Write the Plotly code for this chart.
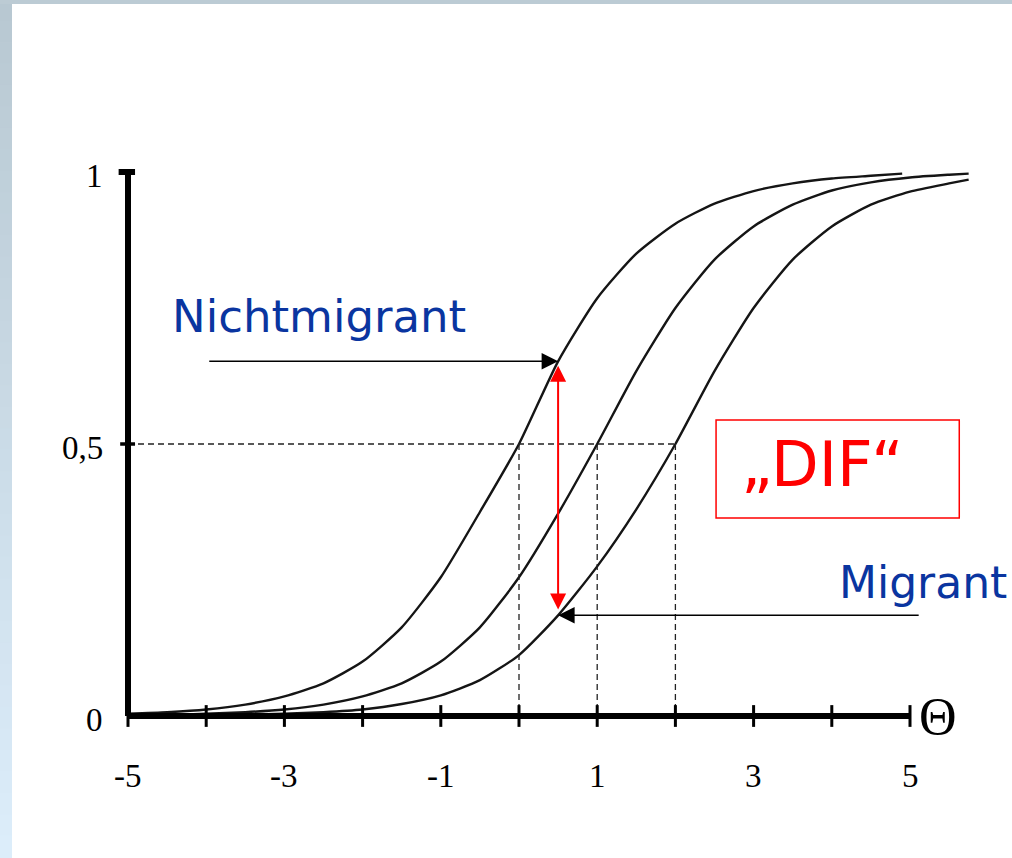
import plotly.graph_objects as go

# ---------------- data ----------------
theta_nm = [-5, -4.5, -4, -3.5, -3, -2.5, -2, -1.5, -1, -0.5, 0, 0.5, 1, 1.5, 2, 2.5, 3, 3.5, 4, 4.5, 4.9]
p_nm = [0.004, 0.007, 0.012, 0.021, 0.036, 0.060, 0.100, 0.163, 0.255, 0.375, 0.500, 0.652, 0.768, 0.850,
        0.905, 0.942, 0.965, 0.979, 0.988, 0.993, 0.997]

theta_mid = [-5, -4.5, -4, -3.5, -3, -2.5, -2, -1.5, -1, -0.5, 0, 0.5, 1, 1.5, 2, 2.5, 3, 3.5, 4, 4.5, 5, 5.5, 5.75]
p_mid = [0.001, 0.002, 0.004, 0.007, 0.012, 0.021, 0.036, 0.060, 0.100, 0.163, 0.255, 0.372, 0.500, 0.634,
         0.750, 0.839, 0.900, 0.940, 0.966, 0.981, 0.990, 0.995, 0.997]

theta_mig = [-5, -4.5, -4, -3.5, -3, -2.5, -2, -1.5, -1, -0.5, 0, 0.5, 1, 1.5, 2, 2.5, 3, 3.5, 4, 4.5, 5, 5.5, 5.75]
p_mig = [0.0005, 0.0008, 0.0014, 0.0024, 0.004, 0.007, 0.012, 0.022, 0.038, 0.066, 0.112, 0.185, 0.275, 0.380,
         0.500, 0.634, 0.750, 0.839, 0.900, 0.940, 0.964, 0.979, 0.986]

difficulties = [0, 1, 2]          # theta where P = 0.5
x_ticks = [-5, -4, -3, -2, -1, 0, 1, 2, 3, 4, 5]
x_tick_labels = ["-5", "-3", "-1", "1", "3", "5"]
x_tick_label_vals = [-5, -3, -1, 1, 3, 5]
y_tick_vals = [0, 0.5, 1]
y_tick_labels = ["0", "0,5", "1"]
arrow_theta = 0.5

# ---------------- figure ----------------
W, H = 1012, 858
X0 = -5 - 128 / 78.2
X1 = 5 + (W - 910) / 78.2
Y1 = 716 / 544
Y0 = -(H - 716) / 544

fig = go.Figure()

curve_line = dict(color="#151515", width=2.4, shape="spline", smoothing=0.6)
for th, p in [(theta_nm, p_nm), (theta_mid, p_mid), (theta_mig, p_mig)]:
    fig.add_trace(go.Scatter(x=th, y=p, mode="lines", line=curve_line, hoverinfo="skip", showlegend=False))

# dashed guide lines
dash = dict(color="#222222", width=1.3, dash="6px,4px")
fig.add_trace(go.Scatter(x=[x_ticks[0], max(difficulties)], y=[0.5, 0.5], mode="lines", line=dash,
                         hoverinfo="skip", showlegend=False))
vx, vy = [], []
for d in difficulties:
    vx += [d, d, None]
    vy += [0.5, 0, None]
fig.add_trace(go.Scatter(x=vx, y=vy, mode="lines", line=dash, hoverinfo="skip", showlegend=False))

# axes
fig.add_trace(go.Scatter(x=[x_ticks[0], x_ticks[-1]], y=[0, 0], mode="lines",
                         line=dict(color="black", width=6), hoverinfo="skip", showlegend=False))
fig.add_trace(go.Scatter(x=[x_ticks[0], x_ticks[0]], y=[0, 1], mode="lines",
                         line=dict(color="black", width=6), hoverinfo="skip", showlegend=False))
# x tick marks
tx, ty = [], []
for t in x_ticks:
    tx += [t, t, None]
    ty += [-0.02, 0.02, None]
fig.add_trace(go.Scatter(x=tx, y=ty, mode="lines", line=dict(color="black", width=3),
                         hoverinfo="skip", showlegend=False))
# y tick marks
fig.add_trace(go.Scatter(x=[x_ticks[0] - 0.1, x_ticks[0] + 0.09], y=[0.5, 0.5], mode="lines",
                         line=dict(color="black", width=3.5), hoverinfo="skip", showlegend=False))
fig.add_trace(go.Scatter(x=[x_ticks[0] - 0.12, x_ticks[0] + 0.09], y=[1, 1], mode="lines",
                         line=dict(color="black", width=6), hoverinfo="skip", showlegend=False))

serif = "Liberation Serif"
ann = []
for v, t in zip(x_tick_label_vals, x_tick_labels):
    ann.append(dict(x=v, y=-0.11, text=t, showarrow=False, xanchor="center", yanchor="middle",
                    font=dict(family=serif, size=33, color="black")))
for v, t in zip(y_tick_vals, y_tick_labels):
    ann.append(dict(x=x_ticks[0] - 0.3, y=v - 0.008, text=t, showarrow=False, xanchor="right", yanchor="middle",
                    font=dict(family=serif, size=33, color="black")))
ann.append(dict(x=5.36, y=0.0, text="Θ", showarrow=False, xanchor="center", yanchor="middle",
                font=dict(family=serif, size=52, color="black")))

i_nm = theta_nm.index(arrow_theta)
i_mig = theta_mig.index(arrow_theta)
top_y = p_nm[i_nm]
bot_y = p_mig[i_mig]

# Nichtmigrant arrow
ann.append(dict(x=arrow_theta, y=top_y, ax=-3.98, ay=top_y, axref="x", ayref="y", xref="x", yref="y",
                text="", showarrow=True, arrowhead=2, arrowsize=2.2, arrowwidth=1.5, arrowcolor="black",
                standoff=0))
# Migrant arrow
ann.append(dict(x=arrow_theta, y=bot_y, ax=5.13, ay=bot_y, axref="x", ayref="y", xref="x", yref="y",
                text="", showarrow=True, arrowhead=2, arrowsize=2.2, arrowwidth=1.5, arrowcolor="black",
                standoff=0))
# red DIF double arrow
ann.append(dict(x=arrow_theta, y=top_y - 0.008, ax=arrow_theta, ay=bot_y + 0.008, axref="x", ayref="y",
                xref="x", yref="y", text="", showarrow=True, arrowside="end+start",
                arrowhead=2, startarrowhead=2, arrowsize=1.6, startarrowsize=1.6, arrowwidth=2,
                arrowcolor="#ff0000", standoff=0, startstandoff=0))

blue = "#0a35a0"
ann.append(dict(x=-4.46, y=0.735, text="Nichtmigrant", showarrow=False, xanchor="left", yanchor="middle",
                font=dict(family="DejaVu Sans", size=45, color=blue)))
ann.append(dict(x=6.27, y=0.245, text="Migrant", showarrow=False, xanchor="right", yanchor="middle",
                font=dict(family="DejaVu Sans", size=44, color=blue)))
ann.append(dict(x=3.87, y=0.462, text="„DIF“", showarrow=False, xanchor="center", yanchor="middle",
                font=dict(family="DejaVu Sans", size=62, color="#ff0000")))

shapes = []
# DIF box
shapes.append(dict(type="rect", xref="x", yref="y", x0=2.52, x1=5.63, y0=0.364, y1=0.544,
                   line=dict(color="#ff0000", width=1.5), fillcolor="rgba(0,0,0,0)"))

# slide frame: left gradient strip + top strip
def mix(c1, c2, t):
    return "rgb({},{},{})".format(*[round(a + (b - a) * t) for a, b in zip(c1, c2)])

top_c = (184, 200, 210)
bot_c = (220, 237, 250)
N = 40
for i in range(N):
    t = i / (N - 1)
    shapes.append(dict(type="rect", xref="paper", yref="paper", x0=0, x1=12 / W,
                       y0=1 - (i + 1) / N, y1=1 - i / N + 0.001, line=dict(width=0),
                       fillcolor=mix(top_c, bot_c, t), layer="below"))
shapes.append(dict(type="rect", xref="paper", yref="paper", x0=0, x1=1, y0=1 - 4 / H, y1=1,
                   line=dict(width=0), fillcolor="rgb(188,203,212)", layer="below"))

fig.update_layout(
    width=W, height=H,
    margin=dict(l=0, r=0, t=0, b=0),
    paper_bgcolor="white", plot_bgcolor="white",
    xaxis=dict(range=[X0, X1], visible=False, fixedrange=True),
    yaxis=dict(range=[Y0, Y1], visible=False, fixedrange=True),
    annotations=ann, shapes=shapes, showlegend=False,
)

fig.write_html("out.html", config={"displayModeBar": False},
               post_script="document.body.style.margin='0';document.body.style.overflow='hidden';")
